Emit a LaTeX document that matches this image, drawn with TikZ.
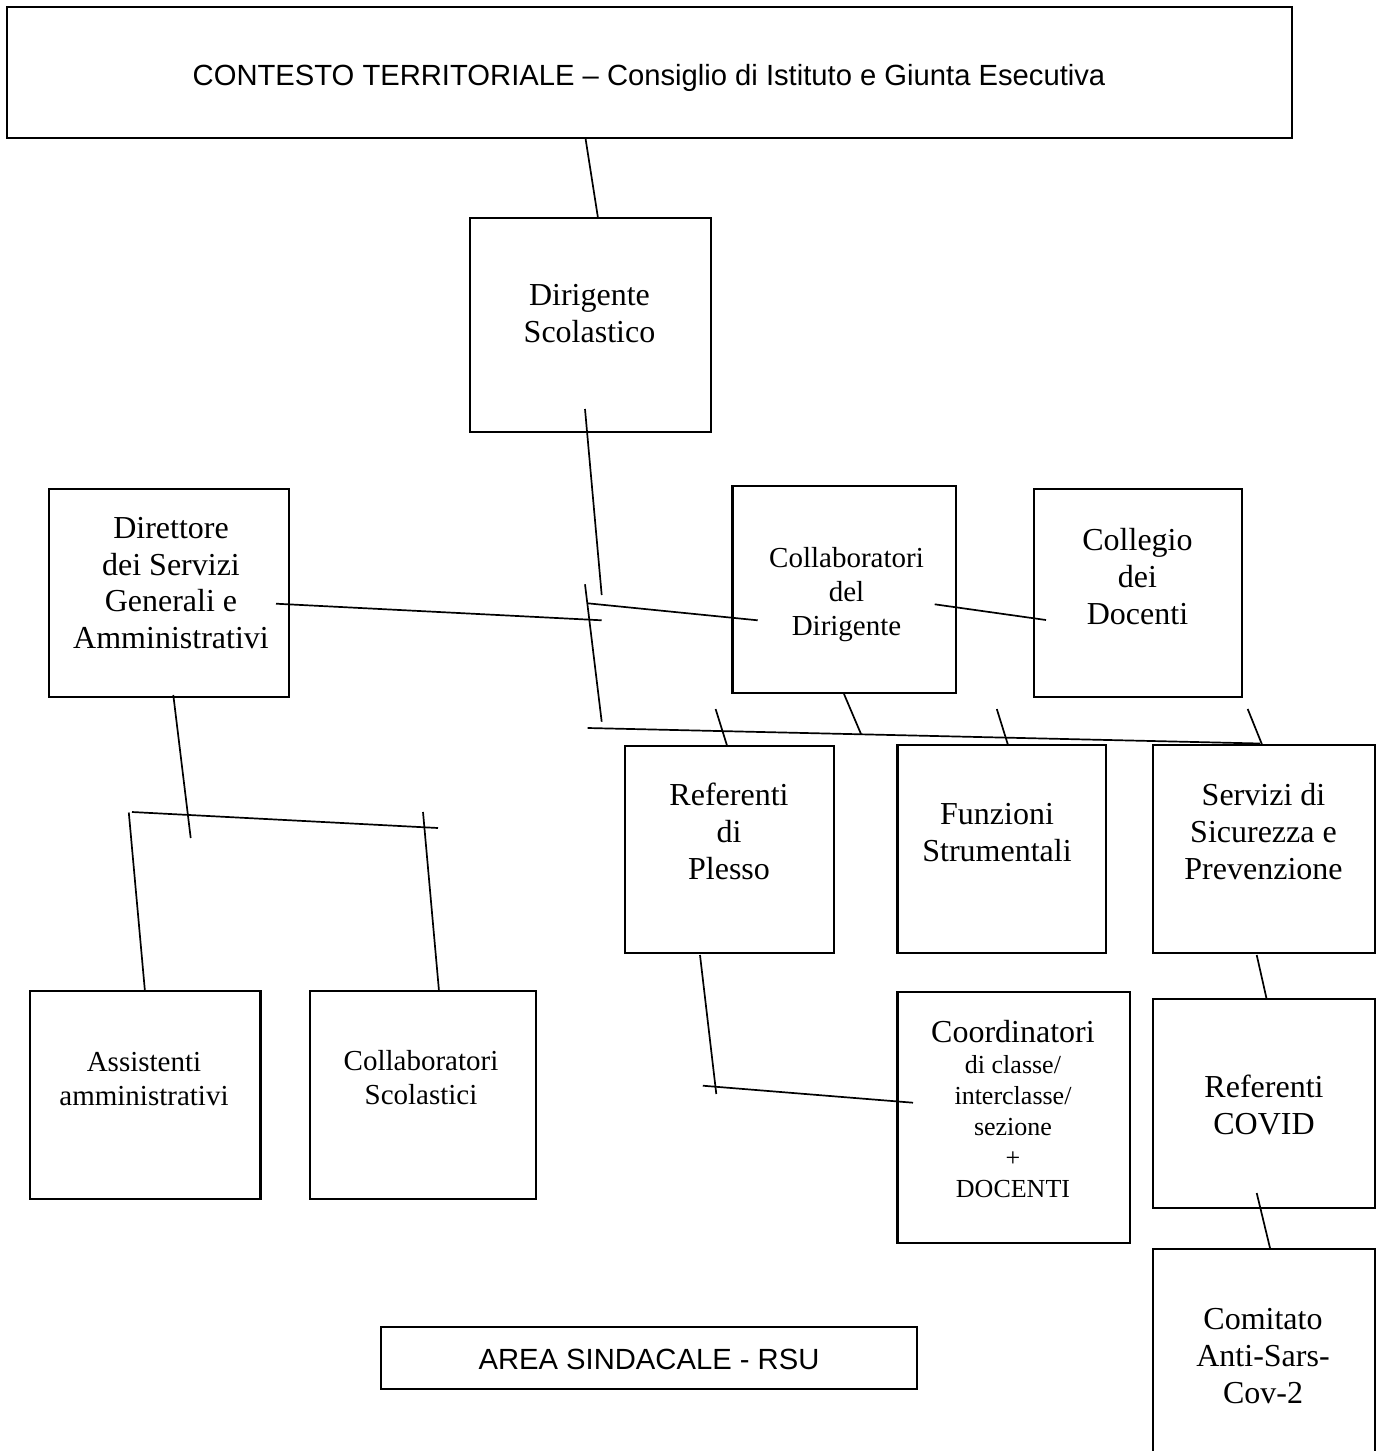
\documentclass[tikz,border=0pt]{standalone}
\usepackage{fontspec}
\setmainfont{Liberation Serif}
\newfontfamily\sansfnt{Liberation Sans}
\usetikzlibrary{fit}

\tikzset{
  orgbox/.style={draw, line width=2.2pt, inner sep=0pt},
  bigbox/.style={orgbox, line width=2.6pt},
  link/.style={line width=1.7pt},
  txt/.style={align=center, inner sep=0pt, anchor=north, font=\fontsize{32}{36.8}\selectfont},
  smalltxt/.style={txt, font=\fontsize{29}{34}\selectfont},
  sanstxt/.style={inner sep=0pt, anchor=base, font=\sansfnt\fontsize{29.2}{34}\selectfont},
}

\begin{document}
\begin{tikzpicture}[x=1pt,y=1pt,yscale=-1]
  \useasboundingbox (0,0) rectangle (1383,1451);
  \clip (0,0) rectangle (1383,1451);

  % Boxes
  \node[bigbox, fit={(7,7) (1292,138)}] (territorio) {};
  \node[orgbox, fit={(470,218) (710.7,432)}] (dirigente) {};
  \node[orgbox, fit={(49,489) (289,697)}] (dsga) {};
  \node[orgbox, fit={(732.5,486) (956,693)}] (collab) {};
  \node[orgbox, fit={(1034,489) (1242,697)}] (collegio) {};
  \node[orgbox, fit={(625,745.7) (833.6,953)}] (plesso) {};
  \node[orgbox, fit={(897.5,745) (1106,953)}] (funzioni) {};
  \node[orgbox, fit={(1153,745) (1375,953)}] (sicurezza) {};
  \node[orgbox, fit={(897.4,992) (1130,1243)}] (coord) {};
  \node[orgbox, fit={(1153,999) (1375,1208)}] (covid) {};
  \node[orgbox, fit={(1153,1249) (1375,1480)}] (comitato) {};
  \node[orgbox, fit={(29.7,991) (260.5,1199)}] (assist) {};
  \node[orgbox, fit={(310,991) (535.6,1199)}] (collsc) {};
  \node[orgbox, fit={(381,1326.7) (917,1388.7)}] (rsu) {};

  % Texts
  \node[sanstxt] (territorio-t) at (649,85) {CONTESTO TERRITORIALE – Consiglio di Istituto e Giunta Esecutiva};
  \node[txt] (dirigente-t) at (589.5,284) {Dirigente\\Scolastico};
  \node[txt] (dsga-t) at (171,517) {Direttore\\dei Servizi\\Generali e\\Amministrativi};
  \node[smalltxt] (collab-t) at (846.5,547) {Collaboratori\\del\\Dirigente};
  \node[txt] (collegio-t) at (1137.5,528) {Collegio\\dei\\Docenti};
  \node[txt] (plesso-t) at (729,783) {Referenti\\di\\Plesso};
  \node[txt] (funzioni-t) at (997,803) {Funzioni\\Strumentali};
  \node[txt] (sicurezza-t) at (1263.5,783) {Servizi di\\Sicurezza e\\Prevenzione};
  \node[txt, font=\fontsize{26}{31}\selectfont] (coord-t) at (1013,1020)
    {{\fontsize{32}{36.8}\selectfont Coordinatori}\\di classe/\\interclasse/\\sezione\\+\\DOCENTI};
  \node[txt] (covid-t) at (1264,1075) {Referenti\\COVID};
  \node[txt] (comitato-t) at (1263,1308) {Comitato\\Anti-Sars-\\Cov-2};
  \node[smalltxt] (assist-t) at (144,1052) {Assistenti\\amministrativi};
  \node[smalltxt] (collsc-t) at (421,1050) {Collaboratori\\Scolastici};
  \node[sanstxt] (rsu-t) at (649,1369.3) {AREA SINDACALE - RSU};

  % Connector end points
  \coordinate (t1) at (585.6,139);    \coordinate (t2) at (598,218);
  \coordinate (d1) at (585,409);      \coordinate (d2) at (601.7,595);
  \coordinate (d3) at (585,584.3);    \coordinate (d4) at (601.7,721.7);
  \coordinate (g1) at (276,603.7);    \coordinate (g2) at (601.7,620.3);
  \coordinate (c1) at (587.7,603.3);  \coordinate (c2) at (757.7,620.3);
  \coordinate (k1) at (934.7,604.3);  \coordinate (k2) at (1046,620);
  \coordinate (b1) at (587.7,728);    \coordinate (b2) at (1260,743.5);
  \coordinate (p1) at (715.6,709);    \coordinate (p2) at (727,745.5);
  \coordinate (q1) at (844,694);      \coordinate (q2) at (861,734);
  \coordinate (f1) at (996.8,709);    \coordinate (f2) at (1008,745);
  \coordinate (s1) at (1247.7,709);   \coordinate (s2) at (1262,744.5);
  \coordinate (r1) at (700,955);      \coordinate (r2) at (716.3,1094);
  \coordinate (r3) at (702.8,1085.7); \coordinate (r4) at (913,1102.7);
  \coordinate (v1) at (1256.7,955);   \coordinate (v2) at (1266.7,999.3);
  \coordinate (v3) at (1256.7,1193);  \coordinate (v4) at (1270,1248);
  \coordinate (a1) at (173.3,695);    \coordinate (a2) at (190.7,838);
  \coordinate (h1) at (132,812);      \coordinate (h2) at (438,828);
  \coordinate (l1) at (128.8,812.5);  \coordinate (l2) at (144.9,990.7);
  \coordinate (m1) at (423,812);      \coordinate (m2) at (439,991);

  % Connectors
  \draw[link] (t1) -- (t2);
  \draw[link] (d1) -- (d2);
  \draw[link] (d3) -- (d4);
  \draw[link] (g1) -- (g2);
  \draw[link] (c1) -- (c2);
  \draw[link] (k1) -- (k2);
  \draw[link] (b1) -- (b2);
  \draw[link] (p1) -- (p2);
  \draw[link] (q1) -- (q2);
  \draw[link] (f1) -- (f2);
  \draw[link] (s1) -- (s2);
  \draw[link] (r1) -- (r2);
  \draw[link] (r3) -- (r4);
  \draw[link] (v1) -- (v2);
  \draw[link] (v3) -- (v4);
  \draw[link] (a1) -- (a2);
  \draw[link] (h1) -- (h2);
  \draw[link] (l1) -- (l2);
  \draw[link] (m1) -- (m2);
\end{tikzpicture}
\end{document}
